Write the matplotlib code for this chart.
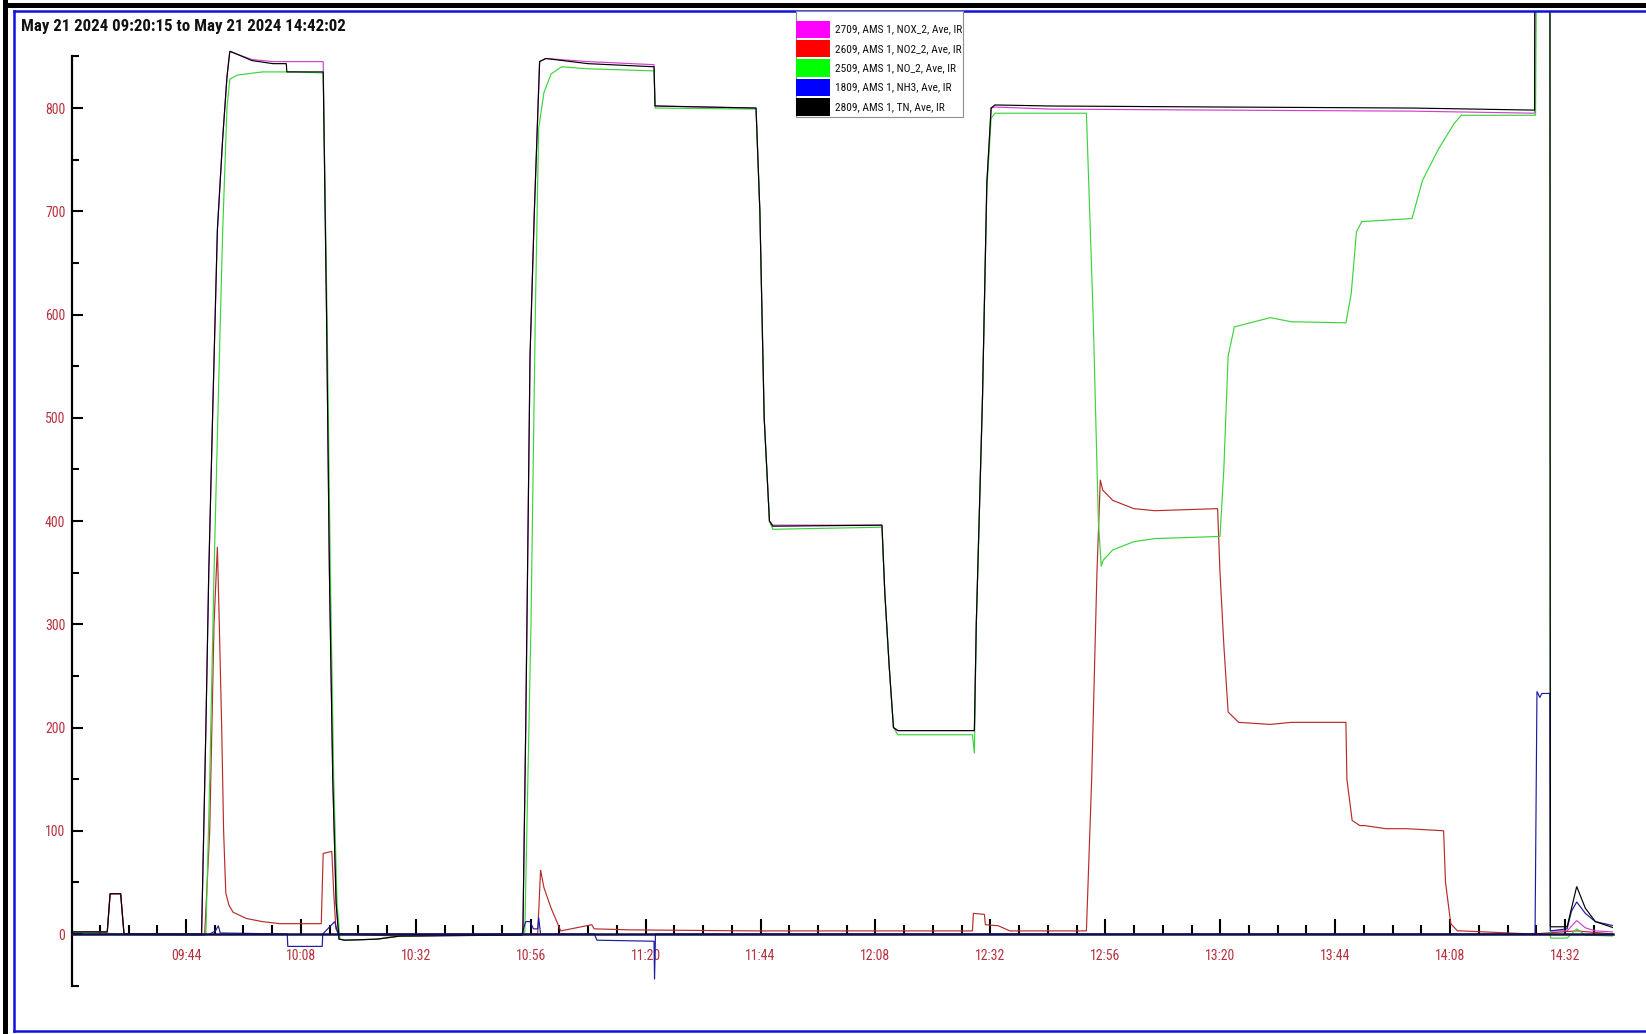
import matplotlib
matplotlib.use("Agg")
import matplotlib.pyplot as plt
from matplotlib import font_manager
from matplotlib.patches import Rectangle
from matplotlib.lines import Line2D
from matplotlib.ticker import FixedLocator, NullFormatter

# ---------------- data (minutes after 09:20:15) ----------------
title = "May 21 2024 09:20:15 to May 21 2024 14:42:02"
start_clock = "09:20:15"
end_minutes = 321.78

series_names = [
    "2709, AMS 1, NOX_2, Ave, IR",
    "2609, AMS 1, NO2_2, Ave, IR",
    "2509, AMS 1, NO_2, Ave, IR",
    "1809, AMS 1, NH3, Ave, IR",
    "2809, AMS 1, TN, Ave, IR",
]
legend_colors = ["#ff00ff", "#ff0000", "#00ff00", "#0000ff", "#000000"]
line_colors = ["#d040d0", "#b82c2c", "#3cd43c", "#1c1ca0", "#000000"]

t_nox = [0, 7.3, 7.9, 10.1, 10.8, 27.0, 27.9, 28.5, 29.4, 30.3, 31.4, 32.3, 32.9, 34.5, 37.5, 41.9,
         52.4, 53.1, 53.7, 54.4, 55.1, 55.7, 57.0, 63.6, 68.4, 93.9, 94.1, 94.7, 95.6, 96.5, 97.6, 98.9,
         107.7, 121.5, 121.7, 142.8, 143.6, 144.5, 145.6, 146.3, 169.1, 169.7, 170.6, 171.5, 172.4,
         188.4, 188.8, 190.1, 191.0, 191.9, 192.7, 204.1, 240.0, 280.0, 305.4, 305.5, 308.6, 308.7,
         312.2, 314.2, 316.0, 318.1, 321.9]
v_nox = [2, 2, 39, 39, 0, 0, 200, 350, 520, 682, 770, 830, 855, 852, 847, 845,
         845, 600, 350, 150, 30, -5, -6, -5, -2, -1, 0, 200, 560, 700, 845, 848,
         845, 842, 802, 800, 700, 500, 400, 396, 396, 330, 260, 200, 197,
         197, 300, 520, 727, 800, 801, 799, 798, 797, 795, 1000, 1000, 3,
         3, 13, 6, 3, 2]

t_no2 = [0, 7.3, 7.9, 10.1, 10.8, 27.65, 28.7, 29.6, 30.3, 30.7, 31.2, 31.6, 32.05, 32.7, 33.6,
         36.4, 39.7, 43.4, 52.0, 52.4, 54.2, 54.6, 55.05, 55.7, 68.4, 94.5, 97.2, 97.8, 98.5, 100.0,
         102.0, 108.5, 109.0, 116.4, 142.8, 188.0, 188.2, 190.5, 190.7, 193.4, 195.8, 211.8, 212.9,
         214.0, 214.7, 215.2, 217.3, 221.7, 226.1, 239.2, 239.7, 240.5, 241.4, 242.5, 243.6, 250.2,
         254.6, 257.9, 266.0, 266.2, 267.3, 268.9, 270.0, 274.3, 278.7, 286.4, 286.8, 287.9, 289.3,
         290.1, 305.0, 314.2, 321.9]
v_no2 = [2, 2, 39, 39, 0, 0, 100, 300, 375, 300, 200, 100, 40, 28, 21,
         15, 12, 10, 10, 78, 80, 40, 5, 0, -2, 0, 0, 62, 45, 25,
         3, 9, 5, 4, 3, 3, 20, 19, 9, 8, 3, 3, 150,
         350, 440, 430, 420, 412, 410, 412, 350, 280, 215, 210, 205,
         203, 205, 205, 205, 150, 110, 105, 105, 102, 102, 100, 50, 10, 3,
         3, 0, 3, 0]

t_no = [0, 10.8, 27.9, 28.7, 29.6, 30.5, 31.4, 32.3, 32.9, 34.5, 39.7, 46.3, 52.4, 53.2, 53.9,
        54.6, 55.3, 55.9, 57.0, 63.6, 68.4, 94.5, 95.8, 96.7, 97.4, 98.5, 100.0, 102.2, 107.7,
        121.5, 121.7, 142.8, 143.6, 144.5, 145.6, 146.3, 169.1, 169.7, 170.6, 171.5, 172.4, 188.0,
        188.4, 188.8, 190.1, 191.0, 191.9, 192.7, 211.8, 213.2, 214.3, 214.9, 215.3, 217.3, 221.7,
        226.1, 239.2, 239.7, 240.5, 241.4, 242.7, 250.2, 254.6, 266.0, 267.1, 268.2, 269.3, 279.8,
        282.0, 285.3, 288.6, 290.1, 305.6, 305.9, 308.6, 308.7, 312.2, 314.2, 316.0, 321.9]
v_no = [2, 0, 0, 150, 350, 520, 680, 800, 828, 832, 835, 835, 834, 600, 350,
        150, 30, -5, -6, -5, -2, 0, 300, 600, 780, 815, 833, 840, 838,
        836, 800, 799, 700, 500, 400, 392, 394, 330, 260, 200, 193, 193,
        175, 300, 520, 720, 790, 795, 795, 600, 400, 356, 362, 372, 380,
        383, 385, 385, 450, 560, 588, 597, 593, 592, 620, 680, 690, 693,
        730, 760, 785, 793, 793, 1000, 1000, -4, -4, 5, -1, -2]

t_nh3 = [0, 27.0, 28.7, 29.9, 30.5, 30.9, 44.9, 45.0, 52.2, 52.3, 54.8, 55.5, 93.9, 94.7, 95.6,
         96.3, 97.2, 97.4, 97.8, 109.0, 109.6, 121.5, 121.6, 121.8, 305.5, 305.9, 306.5, 306.9,
         308.6, 308.7, 312.2, 313.1, 314.2, 316.0, 318.1, 321.9]
v_nh3 = [0, -1, 0, 3, 8, 1, 0, -12, -12, 0, 12, 0, 0, 12, 12,
         5, 5, 16, 0, 0, -6, -7, -44, 0, 0, 235, 229, 233,
         233, 3, 5, 22, 31, 20, 12, 8]

t_tn = [0, 7.3, 7.9, 10.1, 10.8, 27.0, 27.9, 28.5, 29.4, 30.3, 31.4, 32.3, 32.9, 34.5, 37.5, 41.9,
        44.7, 44.8, 52.4, 53.1, 53.7, 54.4, 55.1, 55.7, 57.0, 63.6, 68.4, 93.9, 94.1, 94.7, 95.6,
        96.5, 97.6, 98.9, 107.7, 121.5, 121.7, 142.8, 143.6, 144.5, 145.6, 146.3, 169.1, 169.7,
        170.6, 171.5, 172.4, 188.4, 188.8, 190.1, 191.0, 191.9, 192.7, 204.1, 240.0, 280.0, 305.4,
        305.5, 308.6, 308.7, 312.2, 314.2, 316.0, 318.1, 321.9]
v_tn = [2, 2, 39, 39, 0, 0, 200, 350, 520, 682, 770, 830, 855, 852, 846, 843,
        843, 835, 835, 600, 350, 150, 30, -5, -6, -5, -2, -1, 0, 200, 560,
        700, 845, 848, 843, 840, 802, 800, 700, 500, 400, 395, 396, 330,
        260, 200, 197, 197, 300, 520, 727, 800, 803, 802, 801, 800, 798,
        1000, 1000, 7, 7, 46, 25, 12, 6]

series_t = [t_nox, t_no2, t_no, t_nh3, t_tn]
series_v = [v_nox, v_no2, v_no, v_nh3, v_tn]

major_labels = ["09:44", "10:08", "10:32", "10:56", "11:20", "11:44", "12:08",
                "12:32", "12:56", "13:20", "13:44", "14:08", "14:32"]
minor_clock = ["09:26", "09:32", "09:38", "09:50", "09:56", "10:02", "10:14", "10:20",
               "10:26", "10:38", "10:44", "10:50", "11:02", "11:08", "11:14", "11:26",
               "11:32", "11:38", "11:50", "11:56", "12:02", "12:14", "12:20", "12:26",
               "12:38", "12:44", "12:50", "13:02", "13:08", "13:14", "13:26", "13:32",
               "13:38", "13:50", "13:56", "14:02", "14:14", "14:20", "14:26", "14:38"]
y_major = [0, 100, 200, 300, 400, 500, 600, 700, 800]
y_minor = [-50, 50, 150, 250, 350, 450, 550, 650, 750, 850]


def clock_to_min(s):
    parts = [float(p) for p in s.split(":")]
    secs = parts[0] * 3600 + parts[1] * 60 + (parts[2] if len(parts) > 2 else 0)
    p0 = [float(p) for p in start_clock.split(":")]
    return (secs - (p0[0] * 3600 + p0[1] * 60 + p0[2])) / 60.0


# ---------------- fonts ----------------
avail = {f.name for f in font_manager.fontManager.ttflist}
narrow = None
for cand in ["Liberation Sans Narrow", "DejaVu Sans Condensed", "Roboto Condensed",
             "Open Sans Condensed", "Liberation Sans"]:
    if cand in avail:
        narrow = cand
        break
fam = [narrow, "DejaVu Sans"] if narrow else ["DejaVu Sans"]
is_narrow = narrow in ("Liberation Sans Narrow", "DejaVu Sans Condensed", "Roboto Condensed",
                       "Open Sans Condensed")
scale = 1.0 if is_narrow else 0.85
plt.rcParams["font.family"] = fam

W, H = 1646, 1034
fig = plt.figure(figsize=(W / 100, H / 100), dpi=100)
fig.patch.set_facecolor("white")


def fx(px):
    return px / W


def fy(py):
    return 1 - py / H


# ---------------- frame ----------------
fig.add_artist(Rectangle((fx(3), 0), fx(5), 1, transform=fig.transFigure,
                         facecolor="black", edgecolor="none"))
fig.add_artist(Rectangle((fx(3), fy(8)), 1, 5 / H, transform=fig.transFigure,
                         facecolor="black", edgecolor="none"))
blue = "#1010e0"
fig.add_artist(Line2D([fx(14), fx(14)], [fy(11), fy(1031)], transform=fig.transFigure,
                      color=blue, lw=1.8))
fig.add_artist(Line2D([fx(14), 1], [fy(11), fy(11)], transform=fig.transFigure,
                      color=blue, lw=1.8))
fig.add_artist(Line2D([fx(14), 1], [fy(1031), fy(1031)], transform=fig.transFigure,
                      color=blue, lw=1.8))

# ---------------- main axes ----------------
x0, x1 = 72.3, 1613.0
ybot, ytop = 1034 - 17.4, 11.0
ax = fig.add_axes([fx(x0), fy(ybot), fx(x1) - fx(x0), fy(ytop) - fy(ybot)])
ax.set_facecolor("none")
ax.set_xlim(0, end_minutes)
ax.set_ylim(-80, 894)

for tt, vv, c in zip(series_t, series_v, line_colors):
    ax.plot(tt, vv, color=c, lw=0.85, solid_joinstyle="miter")

for s in ["top", "right"]:
    ax.spines[s].set_visible(False)
ax.spines["left"].set_bounds(-50, 850)
ax.spines["left"].set_linewidth(1.6)
ax.spines["bottom"].set_position(("data", 0))
ax.spines["bottom"].set_linewidth(1.8)
ax.spines["bottom"].set_color("#10104a")

lab_color = "#b8323e"
ax.yaxis.set_major_locator(FixedLocator(y_major))
ax.yaxis.set_minor_locator(FixedLocator(y_minor))
ax.set_yticklabels([str(v) for v in y_major])
ax.tick_params(axis="y", which="major", direction="in", length=8, width=1.5,
               pad=5, labelcolor=lab_color, labelsize=10 * scale)
ax.tick_params(axis="y", which="minor", direction="in", length=5, width=1.5)

ax.xaxis.set_major_locator(FixedLocator([clock_to_min(s) for s in major_labels]))
ax.xaxis.set_minor_locator(FixedLocator([clock_to_min(s) for s in minor_clock]))
ax.set_xticklabels(major_labels)
ax.xaxis.set_minor_formatter(NullFormatter())
ax.tick_params(axis="x", which="major", direction="in", length=11, width=1.5,
               pad=11, labelcolor=lab_color, labelsize=10 * scale)
ax.tick_params(axis="x", which="minor", direction="in", length=6.5, width=1.5)

# ---------------- title ----------------
fig.text(fx(21), fy(27), title, fontsize=12.2 * scale, fontweight="bold",
         color="#111111", ha="left", va="center")

# ---------------- legend ----------------
lx0, lx1, ly0, ly1 = 795.5, 963.0, 11.0, 117.0
fig.add_artist(Rectangle((fx(lx0), fy(ly1)), fx(lx1) - fx(lx0), fy(ly0) - fy(ly1),
                         transform=fig.transFigure, facecolor="white",
                         edgecolor="#909090", lw=0.8, zorder=5))
row_h = 19.4
for i, (name, c) in enumerate(zip(series_names, legend_colors)):
    top = 20.5 + i * row_h
    fig.add_artist(Rectangle((fx(lx0 + 0.5), fy(top + 17.5)), fx(34), 17.5 / H,
                             transform=fig.transFigure, facecolor=c,
                             edgecolor="none", zorder=6))
    fig.text(fx(835), fy(top + 9), name, fontsize=8.2 * scale, color="#111111",
             ha="left", va="center", zorder=7)

fig.savefig("out.png", dpi=100, facecolor="white")
